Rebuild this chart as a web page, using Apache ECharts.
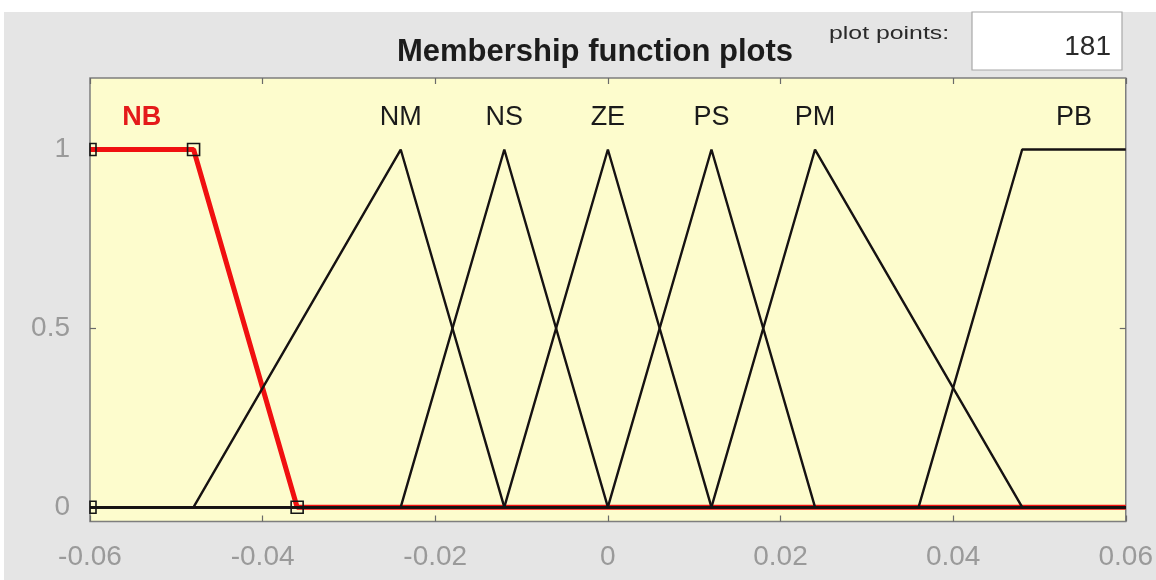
<!DOCTYPE html>
<html>
<head>
<meta charset="utf-8">
<title>Membership function plots</title>
<script src="https://cdn.jsdelivr.net/npm/echarts@6/dist/echarts.min.js"></script>
<style>
  html, body { margin: 0; padding: 0; background: #ffffff; }
  #chart { width: 1156px; height: 580px; }
</style>
</head>
<body>
<div id="chart"></div>
<script>
// Input variable range and axis ticks
const inputRange = [-0.06, 0.06];
const xTickValues = [-0.06, -0.04, -0.02, 0, 0.02, 0.04, 0.06];
const yTickValues = [0, 0.5, 1];

// Membership functions of the variable
const mfNames = ['NB', 'NM', 'NS', 'ZE', 'PS', 'PM', 'PB'];
const mfTypes = ['trapmf', 'trimf', 'trimf', 'trimf', 'trimf', 'trimf', 'trapmf'];
const mfParams = [
  [-0.06, -0.06, -0.048, -0.036],
  [-0.048, -0.024, -0.012],
  [-0.024, -0.012, 0],
  [-0.012, 0, 0.012],
  [0, 0.012, 0.024],
  [0.012, 0.024, 0.048],
  [0.036, 0.048, 0.06, 0.06]
];
const selectedMf = 'NB';
const plotPoints = 181;

const FONT = "'Liberation Sans', Arial, Helvetica, sans-serif";
const labelLevel = 1.09;

// every MF as a trapezoid [a, b, c, d]
function asTrap(type, p) {
  return type === 'trimf' ? [p[0], p[1], p[1], p[2]] : p.slice();
}

function trapValue(x, q) {
  const [a, b, c, d] = q;
  const left = x < a ? 0 : (x >= b ? 1 : (x - a) / (b - a));
  const right = x > d ? 0 : (x <= c ? 1 : (d - x) / (d - c));
  return Math.max(0, Math.min(left, right));
}

// the piecewise-linear curve only bends at its parameters
function mfCurve(q) {
  const xs = [inputRange[0], ...q, inputRange[1]]
    .filter(x => x >= inputRange[0] && x <= inputRange[1]);
  const uniq = Array.from(new Set(xs.map(x => +x.toFixed(6)))).sort((m, n) => m - n);
  return uniq.map(x => [x, trapValue(x, q)]);
}

const traps = mfParams.map((p, i) => asTrap(mfTypes[i], p));
const selIdx = mfNames.indexOf(selectedMf);
const selTrap = traps[selIdx];
const handlePoints = [
  [selTrap[0], 0], [selTrap[1], 1], [selTrap[2], 1], [selTrap[3], 0]
];
const labelData = mfNames.map((n, i) => [
  (traps[i][1] + traps[i][2]) / 2, labelLevel, n, i === selIdx ? 1 : 0
]);

const series = [];
mfNames.forEach((name, i) => {
  const sel = i === selIdx;
  series.push({
    name: name,
    type: 'line',
    data: mfCurve(traps[i]),
    symbol: 'none',
    silent: true,
    z: sel ? 2 : 3,
    lineStyle: sel
      ? { color: '#f01010', width: 5 }
      : { color: '#161212', width: 2.4 }
  });
});

series.push({
  type: 'custom',
  data: handlePoints,
  z: 5,
  silent: true,
  renderItem: function (params, api) {
    const p = api.coord([api.value(0), api.value(1)]);
    const s = 12;
    const cs = params.coordSys;
    const shape = echarts.graphic.clipRectByRect(
      { x: p[0] - s / 2, y: p[1] - s / 2, width: s, height: s },
      { x: cs.x, y: cs.y, width: cs.width, height: cs.height }
    );
    if (!shape) return null;
    return {
      type: 'rect',
      shape: shape,
      style: { fill: 'none', stroke: '#151515', lineWidth: 1.6 }
    };
  }
});

series.push({
  type: 'custom',
  data: labelData,
  z: 6,
  silent: true,
  renderItem: function (params, api) {
    const p = api.coord([api.value(0), api.value(1)]);
    const sel = api.value(3) === 1;
    return {
      type: 'text',
      x: p[0],
      y: p[1],
      style: {
        text: mfNames[params.dataIndex],
        fill: sel ? '#e41a1a' : '#1a1a1a',
        font: (sel ? 'bold ' : '') + '27px ' + FONT,
        align: 'center',
        verticalAlign: 'middle',
        textAlign: 'center',
        textVerticalAlign: 'middle'
      }
    };
  }
});

const tickStyle = { color: '#6a6a6a', width: 1.2 };
const labelStyle = { color: '#9a9a9a', fontSize: 28, fontFamily: FONT };
const hiddenLine = { show: false, onZero: false };

const chart = echarts.init(document.getElementById('chart'), null, { renderer: 'canvas' });
chart.setOption({
  animation: false,
  backgroundColor: '#e5e5e5',
  grid: {
    left: 90, right: 30, top: 78, bottom: 58.5,
    show: true,
    backgroundColor: '#fdfccd',
    borderColor: '#7e7e7e',
    borderWidth: 1.5
  },
  xAxis: [
    {
      type: 'value', min: inputRange[0], max: inputRange[1], position: 'bottom',
      axisLine: hiddenLine, splitLine: { show: false },
      axisTick: { inside: true, length: 6, customValues: xTickValues, lineStyle: tickStyle },
      axisLabel: Object.assign({
        customValues: xTickValues, margin: 22,
        formatter: v => String(+(+v).toFixed(2))
      }, labelStyle)
    },
    {
      type: 'value', min: inputRange[0], max: inputRange[1], position: 'top',
      axisLine: hiddenLine, splitLine: { show: false },
      axisTick: { inside: true, length: 6, customValues: xTickValues, lineStyle: tickStyle },
      axisLabel: { show: false }
    }
  ],
  yAxis: [
    {
      type: 'value', min: -0.04, max: 1.2, position: 'left',
      axisLine: hiddenLine, splitLine: { show: false },
      axisTick: { inside: true, length: 6, customValues: yTickValues, lineStyle: tickStyle },
      axisLabel: Object.assign({
        customValues: yTickValues, margin: 20,
        formatter: v => String(+(+v).toFixed(2))
      }, labelStyle)
    },
    {
      type: 'value', min: -0.04, max: 1.2, position: 'right',
      axisLine: hiddenLine, splitLine: { show: false },
      axisTick: { inside: true, length: 6, customValues: yTickValues, lineStyle: tickStyle },
      axisLabel: { show: false }
    }
  ],
  graphic: [
    { type: 'rect', left: 0, top: 0, shape: { width: 1156, height: 12 }, style: { fill: '#ffffff' }, z: 50 },
    { type: 'rect', left: 0, top: 0, shape: { width: 4, height: 580 }, style: { fill: '#ffffff' }, z: 50 },
    {
      type: 'text', x: 595, y: 52, z: 60,
      style: {
        text: 'Membership function plots', fill: '#1c1c1c',
        font: 'bold 31px ' + FONT, align: 'center', verticalAlign: 'middle'
      }
    },
    {
      type: 'text', x: 829, y: 34, z: 60, scaleX: 1.38,
      style: {
        text: 'plot points:', fill: '#2a2a2a',
        font: '18px ' + FONT, align: 'left', verticalAlign: 'middle'
      }
    },
    {
      type: 'rect', x: 972, y: 12, z: 60,
      shape: { width: 150, height: 58 },
      style: { fill: '#ffffff', stroke: '#a8a8a8', lineWidth: 1.2 }
    },
    {
      type: 'text', x: 1111, y: 47, z: 61,
      style: {
        text: String(plotPoints), fill: '#2a2a2a',
        font: '28px ' + FONT, align: 'right', verticalAlign: 'middle'
      }
    }
  ],
  series: series
});
</script>
</body>
</html>
